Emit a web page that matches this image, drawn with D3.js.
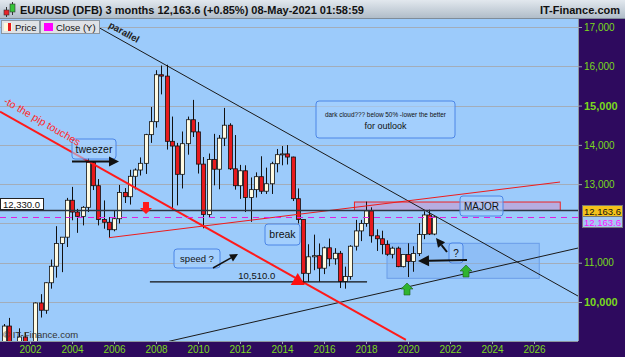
<!DOCTYPE html>
<html>
<head>
<meta charset="utf-8">
<script src="https://cdn.jsdelivr.net/npm/d3@7"></script>
<style>
  body { margin: 0; background: #fff; }
  svg { display: block; font-family: "Liberation Sans", Arial, sans-serif; }
</style>
</head>
<body>
<svg width="625" height="357"></svg>
<script>
// quarterly EUR/USD (DFB) candles, price x 10000
const quarters = [
  "2000Q4",
  "2001Q1","2001Q2","2001Q3","2001Q4","2002Q1","2002Q2","2002Q3","2002Q4",
  "2003Q1","2003Q2","2003Q3","2003Q4","2004Q1","2004Q2","2004Q3","2004Q4",
  "2005Q1","2005Q2","2005Q3","2005Q4","2006Q1","2006Q2","2006Q3","2006Q4",
  "2007Q1","2007Q2","2007Q3","2007Q4","2008Q1","2008Q2","2008Q3","2008Q4",
  "2009Q1","2009Q2","2009Q3","2009Q4","2010Q1","2010Q2","2010Q3","2010Q4",
  "2011Q1","2011Q2","2011Q3","2011Q4","2012Q1","2012Q2","2012Q3","2012Q4",
  "2013Q1","2013Q2","2013Q3","2013Q4","2014Q1","2014Q2","2014Q3","2014Q4",
  "2015Q1","2015Q2","2015Q3","2015Q4","2016Q1","2016Q2","2016Q3","2016Q4",
  "2017Q1","2017Q2","2017Q3","2017Q4","2018Q1","2018Q2","2018Q3","2018Q4",
  "2019Q1","2019Q2","2019Q3","2019Q4","2020Q1","2020Q2","2020Q3","2020Q4",
  "2021Q1","2021Q2"
];
const open = [
  8830,
  9388, 8775, 8490, 9110, 8900, 8720, 9975, 9790,
  10490, 10910, 11490, 11650, 12590, 12290, 12180, 12410,
  13555, 12960, 12100, 12030, 11840, 12120, 12790, 12680,
  13200, 13360, 13530, 14260, 14590, 15785, 15750, 14090,
  13970, 13250, 14030, 14640, 14330, 13510, 12230, 13630,
  13380, 14170, 14500, 13390, 12960, 13340, 12660, 12860,
  13190, 12820, 13010, 13520, 13750, 13770, 13690, 12630,
  12100, 10730, 11150, 11180, 10860, 11380, 11100, 11240,
  10520, 10650, 11420, 11810, 12000, 12320, 11685, 11610,
  11465, 11215, 11370, 10900, 11210, 11030, 11235, 11720,
  12215, 11730
];
const high = [
  9440,
  9595, 8945, 9330, 9230, 9010, 9990, 10200, 10500,
  11080, 11930, 11650, 12650, 12930, 12370, 12440, 13665,
  13580, 13130, 12585, 12160, 12330, 12980, 12900, 13365,
  13400, 13680, 14280, 14965, 15900, 16020, 16040, 14720,
  14050, 14340, 14720, 15145, 14580, 13690, 13780, 14280,
  14250, 14940, 14550, 14250, 13490, 13480, 13170, 13300,
  13710, 13420, 13570, 13895, 13970, 13995, 13700, 12890,
  12100, 11470, 11715, 11490, 11410, 11615, 11370, 11300,
  10900, 11445, 12090, 12090, 12555, 12410, 11850, 11815,
  11570, 11410, 11410, 11200, 11495, 11420, 12010, 12310,
  12350, 12180
];
const low = [
  8225,
  8720, 8350, 8385, 8745, 8565, 8720, 9605, 9700,
  10340, 10620, 10760, 11400, 12080, 11760, 11950, 12290,
  12850, 11950, 11865, 11640, 11800, 12000, 12520, 12480,
  12865, 13220, 13260, 14050, 14440, 15285, 13880, 12330,
  12460, 12890, 13750, 14200, 13270, 11875, 12150, 12970,
  12870, 13970, 13360, 12860, 12625, 12290, 12040, 12660,
  12750, 12750, 12750, 13300, 13480, 13500, 12570, 12000,
  10460, 10520, 10810, 10520, 10710, 10910, 10950, 10355,
  10340, 10570, 11310, 11550, 11915, 11510, 11300, 11215,
  11175, 11110, 10885, 10880, 10635, 10770, 11170, 11600,
  11705, 11700
];
const close = [
  9388,
  8775, 8490, 9110, 8900, 8720, 9975, 9790, 10490,
  10910, 11490, 11650, 12590, 12290, 12180, 12410, 13555,
  12960, 12100, 12030, 11840, 12120, 12790, 12680, 13200,
  13360, 13530, 14260, 14590, 15785, 15750, 14090, 13970,
  13250, 14030, 14640, 14330, 13510, 12230, 13630, 13380,
  14170, 14500, 13390, 12960, 13340, 12660, 12860, 13190,
  12820, 13010, 13520, 13750, 13770, 13690, 12630, 12100,
  10730, 11150, 11180, 10860, 11380, 11100, 11240, 10520,
  10650, 11420, 11810, 12000, 12320, 11685, 11610, 11465,
  11215, 11370, 10900, 11210, 11030, 11235, 11720, 12215,
  11730, 12163.6
];

const priceTicks = [9000, 10000, 11000, 12000, 13000, 14000, 15000, 16000, 17000];
const priceLabels = [10000, 11000, 13000, 14000, 15000, 16000, 17000];
const boldLabels = [10000, 15000];
const yearTicks = [2002, 2004, 2006, 2008, 2010, 2012, 2014, 2016, 2018, 2020, 2022, 2024, 2026];

const lastPrice = 12163.6;
const level = 12330;      // major resistance line
const support = 10510;    // horizontal support
const majorZone = [12330, 12545];
const boxZone = [10603, 11494];

const svg = d3.select("svg");
const width = +svg.attr("width");
const height = +svg.attr("height");

const plot = {left: 0, top: 19, right: 578, bottom: 341};

const x = d3.scaleLinear().domain([2002, 2026]).range([30, 534]);
const y = d3.scaleLinear().domain([10000, 17000]).range([302, 27]);

const fmt = d3.format(",");
const parseQ = s => +s.slice(0, 4) + (+s.slice(5) - 1) / 4;

const candles = quarters.map((q, i) => ({
  t: parseQ(q), o: open[i], h: high[i], l: low[i], c: close[i]
}));

// ---------- background pieces
const defs = svg.append("defs");
const grad = defs.append("linearGradient").attr("id", "hdr").attr("x1", 0).attr("x2", 0).attr("y1", 0).attr("y2", 1);
grad.append("stop").attr("offset", "0%").attr("stop-color", "#e2e8ee");
grad.append("stop").attr("offset", "100%").attr("stop-color", "#aebbc7");

defs.append("clipPath").attr("id", "clip")
  .append("rect")
    .attr("x", plot.left).attr("y", plot.top)
    .attr("width", plot.right - plot.left).attr("height", plot.bottom - plot.top);

svg.append("rect").attr("width", width).attr("height", height).attr("fill", "#2e0a5e");

svg.append("rect")
  .attr("x", plot.left).attr("y", plot.top)
  .attr("width", plot.right - plot.left).attr("height", plot.bottom - plot.top)
  .attr("fill", "#9ccbfb");

// header
svg.append("rect").attr("width", width).attr("height", plot.top).attr("fill", "url(#hdr)");
svg.append("line").attr("x1", 0).attr("x2", width).attr("y1", plot.top - 0.5).attr("y2", plot.top - 0.5)
  .attr("stroke", "#7f8c99");

const icon = svg.append("g");
icon.append("line").attr("x1", 6.5).attr("x2", 6.5).attr("y1", 7).attr("y2", 17).attr("stroke", "#333");
icon.append("rect").attr("x", 4).attr("y", 10).attr("width", 5).attr("height", 5).attr("fill", "#e8232a").attr("stroke", "#333").attr("stroke-width", 0.6);
icon.append("line").attr("x1", 12.5).attr("x2", 12.5).attr("y1", 2).attr("y2", 15).attr("stroke", "#333");
icon.append("rect").attr("x", 10).attr("y", 4).attr("width", 5).attr("height", 8).attr("fill", "#36c43a").attr("stroke", "#333").attr("stroke-width", 0.6);

svg.append("text").attr("x", 20).attr("y", 13.5)
  .attr("font-size", 11).attr("font-weight", "bold").attr("fill", "#111")
  .text("EUR/USD (DFB) 3 months 12,163.6 (+0.85%) 08-May-2021 01:58:59");
svg.append("text").attr("x", 620).attr("y", 13.5).attr("text-anchor", "end")
  .attr("font-size", 11).attr("font-weight", "bold").attr("fill", "#111")
  .text("IT-Finance.com");

// ---------- plot content
const g = svg.append("g").attr("clip-path", "url(#clip)");

g.selectAll(".grid").data(priceTicks).enter().append("line")
  .attr("x1", plot.left).attr("x2", plot.right)
  .attr("y1", d => Math.round(y(d)) + 0.5).attr("y2", d => Math.round(y(d)) + 0.5)
  .attr("stroke", "#a3adb9").attr("stroke-width", 1);

// blue box zone
g.append("rect")
  .attr("x", x(2019.0)).attr("y", y(boxZone[1]))
  .attr("width", x(2026.25) - x(2019.0)).attr("height", y(boxZone[0]) - y(boxZone[1]))
  .attr("fill", "#7fb0f0").attr("fill-opacity", 0.45)
  .attr("stroke", "#6a9de8").attr("stroke-width", 1);

// major zone
g.append("rect")
  .attr("x", x(2017.45)).attr("y", y(majorZone[1]))
  .attr("width", x(2027.25) - x(2017.45)).attr("height", y(majorZone[0]) - y(majorZone[1]))
  .attr("fill", "#c89ad0").attr("fill-opacity", 0.6)
  .attr("stroke", "#ee2222").attr("stroke-width", 1);

// candles
const bw = 4;
const cg = g.append("g");
cg.selectAll(".wick").data(candles).enter().append("line")
  .attr("x1", d => Math.round(x(d.t)) + 0.5).attr("x2", d => Math.round(x(d.t)) + 0.5)
  .attr("y1", d => y(d.h)).attr("y2", d => y(d.l))
  .attr("stroke", "#111").attr("stroke-width", 1);
cg.selectAll(".body").data(candles).enter().append("rect")
  .attr("x", d => Math.round(x(d.t)) + 0.5 - bw / 2)
  .attr("y", d => y(Math.max(d.o, d.c)))
  .attr("width", bw)
  .attr("height", d => Math.max(1, Math.abs(y(d.o) - y(d.c))))
  .attr("fill", d => d.c >= d.o ? "#fffbe2" : "#e8191c")
  .attr("stroke", "#111").attr("stroke-width", 0.8);

// trend lines (data coordinates)
const seg = (a, b, color, w) => g.append("line")
  .attr("x1", x(a[0])).attr("y1", y(a[1]))
  .attr("x2", x(b[0])).attr("y2", y(b[1]))
  .attr("stroke", color).attr("stroke-width", w);

seg([2005.33, 16970], [2028.1, 10150], "#1a1a1a", 1);     // parallel
seg([2005.76, 11637], [2027.24, 13054], "#ee1c1c", 1);    // rising red
seg([2008.62, 9000], [2028.1, 11374], "#1a1a1a", 1);      // rising black
seg([2000.57, 14844], [2019.9, 9033], "#ff1a1a", 2);      // thick red

// 12,330 level and last close
g.append("line")
  .attr("x1", plot.left).attr("x2", plot.right)
  .attr("y1", y(level)).attr("y2", y(level))
  .attr("stroke", "#2a3440").attr("stroke-width", 1.4);
g.append("line")
  .attr("x1", plot.left).attr("x2", plot.right)
  .attr("y1", Math.round(y(lastPrice)) + 0.5).attr("y2", Math.round(y(lastPrice)) + 0.5)
  .attr("stroke", "#e020e0").attr("stroke-width", 1).attr("stroke-dasharray", "6,5");

// support
g.append("line")
  .attr("x1", x(2007.71)).attr("x2", x(2018.05))
  .attr("y1", y(support)).attr("y2", y(support))
  .attr("stroke", "#111").attr("stroke-width", 1.2);
g.append("text").attr("x", x(2012.8)).attr("y", y(support) - 3)
  .attr("text-anchor", "middle").attr("font-size", 9.5).attr("fill", "#111")
  .text(fmt(support) + ".0");

// red triangle
const tx = x(2014.75), ty = y(support);
g.append("path")
  .attr("d", `M${tx - 7},${ty + 3}L${tx},${ty - 9}L${tx + 7},${ty + 3}Z`)
  .attr("fill", "#ff1010");

// ---------- annotations
const ann = g.append("g");

const box = (x0, y0, w, h, label, size, fit) => {
  ann.append("rect").attr("x", x0).attr("y", y0).attr("width", w).attr("height", h)
    .attr("rx", 3).attr("fill", "#a9d2ff").attr("fill-opacity", 0.6)
    .attr("stroke", "#4c86e6").attr("stroke-width", 1);
  const lines = [].concat(label);
  lines.forEach((t, i) => {
    const tt = ann.append("text")
      .attr("x", x0 + w / 2).attr("y", y0 + h / 2 + 3.5 + (i - (lines.length - 1) / 2) * 12)
      .attr("text-anchor", "middle").attr("font-size", size).attr("fill", "#111").text(t);
    if (fit && fit[i]) tt.attr("textLength", fit[i]).attr("lengthAdjust", "spacingAndGlyphs")
      .attr("font-size", size - 1);
  });
};

box(72, 139, 44, 20, "tweezer", 10.5);
box(316, 101, 139, 37, ["dark cloud??? below 50% -lower the better", "for outlook"], 9, [121, 0]);
box(265, 224, 35, 21, "break", 10.5);
box(174, 249, 46, 19, "speed ?", 9.5);
box(449, 243, 14, 20, "?", 10);
box(460, 196, 43, 20, "MAJOR", 10);

const arrow = (x1, y1, x2, y2, w, head) => {
  const a = Math.atan2(y2 - y1, x2 - x1);
  const bx = x2 - head * Math.cos(a), by = y2 - head * Math.sin(a);
  ann.append("line").attr("x1", x1).attr("y1", y1).attr("x2", bx).attr("y2", by)
    .attr("stroke", "#111").attr("stroke-width", w);
  const px = Math.sin(a) * head * 0.5, py = -Math.cos(a) * head * 0.5;
  ann.append("path").attr("d", `M${x2},${y2}L${bx + px},${by + py}L${bx - px},${by - py}Z`).attr("fill", "#111");
};

arrow(72, 161.5, 119, 161.5, 2, 10);
arrow(467, 260, 418, 261, 2, 11);
arrow(447, 252, 436, 238, 2, 9);
arrow(213, 268, 238, 254, 1.5, 8);

const blockArrow = (cx, top, h, up, color) => {
  const hw = 6, sw = 3, hh = h * 0.5;
  const d = up
    ? `M${cx},${top}L${cx + hw},${top + hh}L${cx + sw},${top + hh}L${cx + sw},${top + h}L${cx - sw},${top + h}L${cx - sw},${top + hh}L${cx - hw},${top + hh}Z`
    : `M${cx},${top + h}L${cx + hw},${top + hh}L${cx + sw},${top + hh}L${cx + sw},${top}L${cx - sw},${top}L${cx - sw},${top + hh}L${cx - hw},${top + hh}Z`;
  ann.append("path").attr("d", d).attr("fill", color).attr("stroke", "#1d5a1d").attr("stroke-width", up ? 0.6 : 0);
};
blockArrow(407, 283, 12, true, "#2fb42f");
blockArrow(466, 265, 12, true, "#2fb42f");
blockArrow(146, 202, 12, false, "#ff1a1a");

// rotated labels
ann.append("text").attr("transform", "translate(3,103) rotate(30)")
  .attr("font-size", 10.5).attr("fill", "#ff2a2a").text("-to the pip touches");
ann.append("text").attr("transform", "translate(108,27) rotate(29)")
  .attr("font-size", 9.5).attr("font-weight", "bold").attr("fill", "#222").text("parallel");

ann.append("text").attr("x", 3).attr("y", 338).attr("font-size", 9.5).attr("fill", "#333")
  .text("\u00a9 IT-Finance.com");

// level label on the left
svg.append("rect").attr("x", 0.5).attr("y", 198.5).attr("width", 43).attr("height", 11)
  .attr("fill", "#fff").attr("stroke", "#222");
svg.append("text").attr("x", 3).attr("y", 207.5).attr("font-size", 9.5).attr("fill", "#111")
  .text(fmt(level) + ".0");

// legend
const legend = svg.append("g");
legend.append("rect").attr("x", 1.5).attr("y", 20.5).attr("width", 38).attr("height", 13)
  .attr("fill", "#dfe2e6").attr("stroke", "#8a96a2");
legend.append("rect").attr("x", 4).attr("y", 23).attr("width", 8).attr("height", 8).attr("fill", "#fff8d8");
legend.append("rect").attr("x", 8).attr("y", 23).attr("width", 3).attr("height", 8).attr("fill", "#e8191c");
legend.append("text").attr("x", 15).attr("y", 31).attr("font-size", 9.5).attr("fill", "#111").text("Price");
legend.append("rect").attr("x", 40.5).attr("y", 20.5).attr("width", 59).attr("height", 13)
  .attr("fill", "#dfe2e6").attr("stroke", "#8a96a2");
legend.append("rect").attr("x", 44).attr("y", 23).attr("width", 9).attr("height", 8).attr("fill", "#ff00ff");
legend.append("text").attr("x", 56).attr("y", 31).attr("font-size", 9.5).attr("fill", "#111").text("Close (Y)");

// ---------- axes
svg.append("line").attr("x1", plot.right + 0.5).attr("x2", plot.right + 0.5)
  .attr("y1", plot.top).attr("y2", plot.bottom).attr("stroke", "#8c96a0");

const yAxis = d3.axisRight(y).tickValues(priceLabels).tickSize(4).tickPadding(2)
  .tickFormat(fmt);
const yAxisG = svg.append("g").attr("transform", `translate(${plot.right},0)`).call(yAxis);
yAxisG.select(".domain").remove();
yAxisG.selectAll(".tick line").attr("stroke", "#9aa4ae");
yAxisG.selectAll(".tick text")
  .attr("fill", "#7ada1c")
  .attr("font-family", "Liberation Sans, Arial, sans-serif")
  .attr("font-size", d => boldLabels.includes(d) ? 11 : 10)
  .attr("font-weight", d => boldLabels.includes(d) ? "bold" : "normal");

const xAxis = d3.axisBottom(x).tickValues(yearTicks).tickSize(3).tickPadding(2)
  .tickFormat(d3.format("d"));
const xAxisG = svg.append("g").attr("transform", `translate(0,${plot.bottom})`).call(xAxis);
xAxisG.select(".domain").attr("stroke", "#8c96a0").attr("d", `M0,0.5H${plot.right}`);
xAxisG.selectAll(".tick line").attr("stroke", "#9aa4ae");
xAxisG.selectAll(".tick text")
  .attr("fill", "#7ada1c").attr("font-size", 10)
  .attr("font-family", "Liberation Sans, Arial, sans-serif");

// last price labels
const ly = y(lastPrice);
svg.append("rect").attr("x", 582.5).attr("y", ly - 11.5).attr("width", 40).attr("height", 11)
  .attr("fill", "#f4c21a").attr("stroke", "#777");
svg.append("text").attr("x", 602.5).attr("y", ly - 2.5).attr("text-anchor", "middle")
  .attr("font-size", 9.5).attr("fill", "#111").text(fmt(lastPrice));
svg.append("rect").attr("x", 582.5).attr("y", ly - 0.5).attr("width", 40).attr("height", 11)
  .attr("fill", "#a6c9f2").attr("stroke", "#777");
svg.append("text").attr("x", 602.5).attr("y", ly + 8.5).attr("text-anchor", "middle")
  .attr("font-size", 9.5).attr("fill", "#ff10ff").text(fmt(lastPrice));
</script>
</body>
</html>
